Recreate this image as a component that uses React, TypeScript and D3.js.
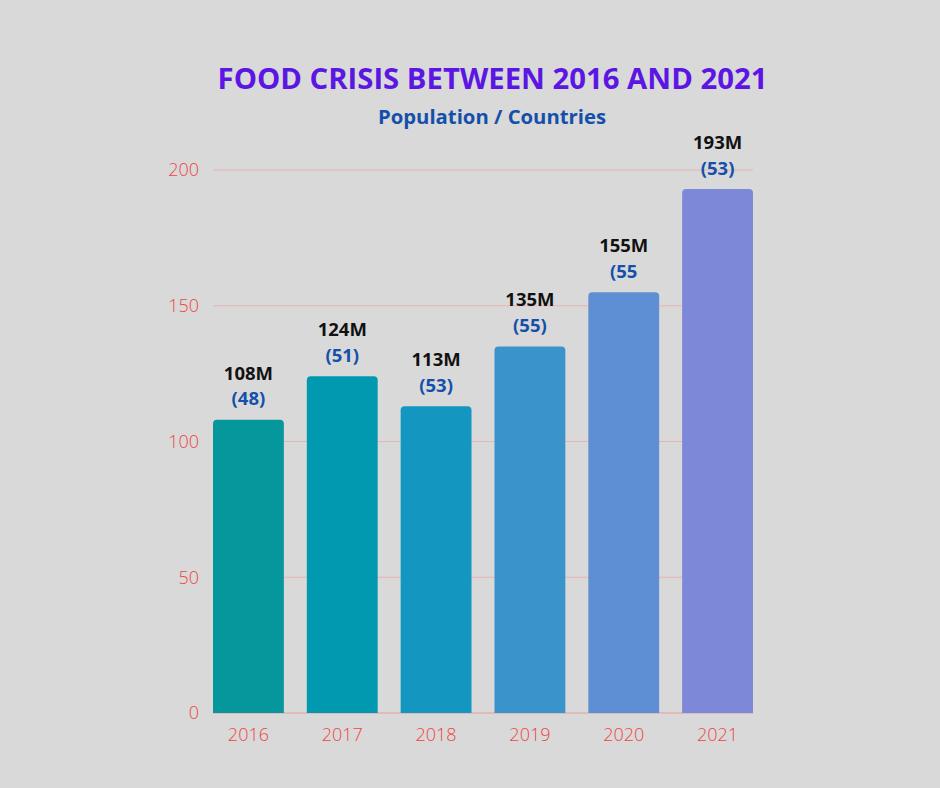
import React from "react";
import * as d3 from "d3";

const years = ["2016", "2017", "2018", "2019", "2020", "2021"];
const population = [108, 124, 113, 135, 155, 193];
const popLabels = ["108M", "124M", "113M", "135M", "155M", "193M"];
const countryLabels = ["(48)", "(51)", "(53)", "(55)", "(55", "(53)"];
const barColors = ["#05979c", "#0099b0", "#1396c0", "#3a94cc", "#5e8ed3", "#7e88d8"];
const yTicks = [0, 50, 100, 150, 200];

const W = 940;
const H = 788;
const FONT = "'Open Sans', 'Noto Sans', sans-serif";

export default function App() {
  const x = d3.scaleBand<string>().domain(years).range([213, 753]).paddingInner(0.245).paddingOuter(0);
  const y = d3.scaleLinear().domain([0, 200]).range([713, 170]);
  const r = 4;

  const barPath = (x0: number, y0: number, w: number, y1: number) => {
    const p = d3.path();
    p.moveTo(x0, y1);
    p.lineTo(x0, y0 + r);
    p.arcTo(x0, y0, x0 + r, y0, r);
    p.lineTo(x0 + w - r, y0);
    p.arcTo(x0 + w, y0, x0 + w, y0 + r, r);
    p.lineTo(x0 + w, y1);
    p.closePath();
    return p.toString();
  };

  return (
    <svg width={W} height={H} style={{ display: "block", position: "absolute", left: 0, top: 0 }}>
      <rect x={0} y={0} width={W} height={H} fill="#d9d9d9" />
      <text x={492.5} y={88.5} textAnchor="middle" fontFamily={FONT} fontWeight={700} fontSize={29.3} fill="#5c16e4">
        FOOD CRISIS BETWEEN 2016 AND 2021
      </text>
      <text x={492} y={123.5} textAnchor="middle" fontFamily={FONT} fontWeight={700} fontSize={20.3} fill="#1450aa">
        Population / Countries
      </text>
      {yTicks.map((t) => (
        <g key={t}>
          <line x1={213} x2={753} y1={y(t)} y2={y(t)} stroke={t === 0 ? "#e89a9a" : "#e8b3b3"} strokeWidth={1} />
          <text x={199} y={y(t) + 6.3} textAnchor="end" fontFamily={FONT} fontWeight={300} fontSize={18} fill="#f04444">
            {t}
          </text>
        </g>
      ))}
      {years.map((yr, i) => {
        const bx = x(yr)!;
        const bw = x.bandwidth();
        const top = y(population[i]);
        const cx = bx + bw / 2;
        return (
          <g key={yr}>
            <path d={barPath(bx, top, bw, y(0))} fill={barColors[i]} />
            <text x={cx} y={top - 40} textAnchor="middle" fontFamily={FONT} fontWeight={700} fontSize={18.5} fill="#111">
              {popLabels[i]}
            </text>
            <text x={cx} y={top - 14.5} textAnchor="middle" fontFamily={FONT} fontWeight={700} fontSize={18.5} fill="#1450aa">
              {countryLabels[i]}
            </text>
            <text x={cx} y={741} textAnchor="middle" fontFamily={FONT} fontWeight={300} fontSize={18} fill="#f04444">
              {yr}
            </text>
          </g>
        );
      })}
    </svg>
  );
}
